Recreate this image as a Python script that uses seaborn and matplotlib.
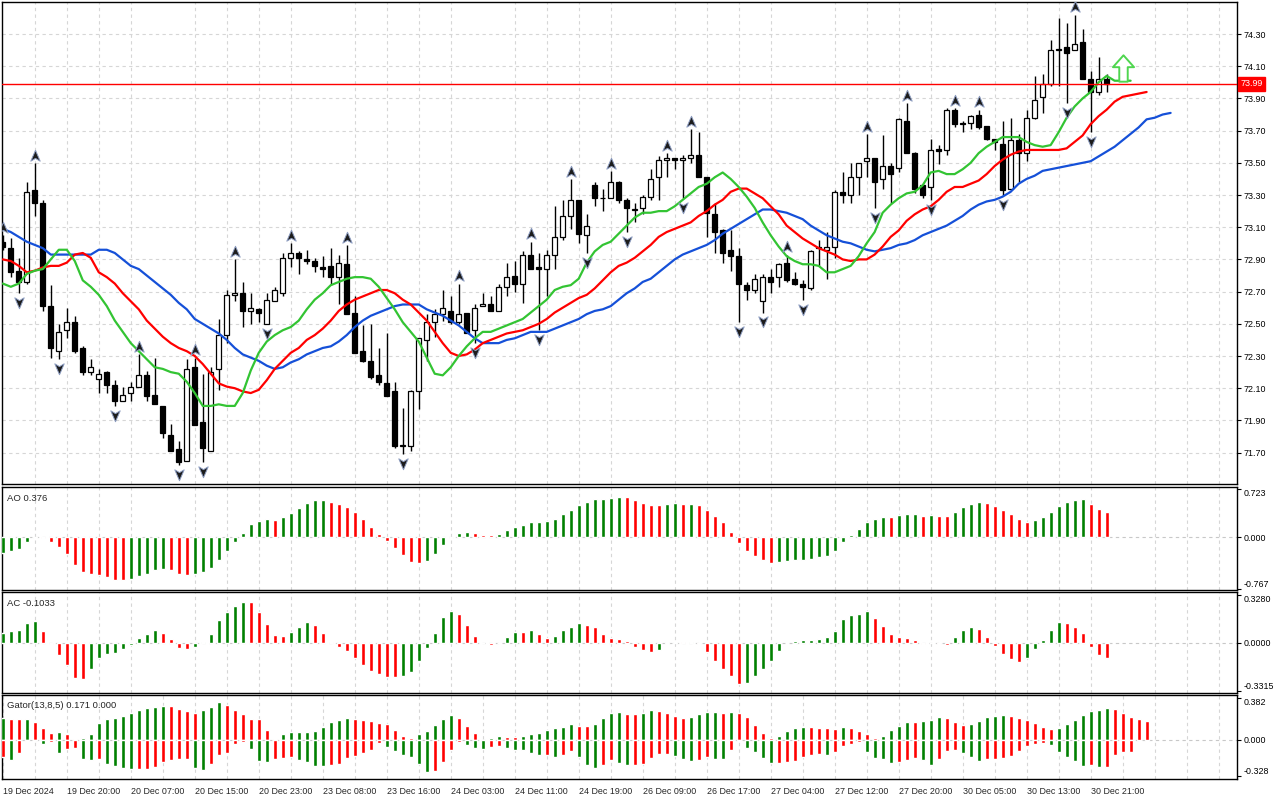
import numpy as np
import pandas as pd
import matplotlib
matplotlib.use("Agg")
import matplotlib.pyplot as plt
from matplotlib.path import Path
import seaborn as sns

# hourly candles, bar 0 = 19 Dec 2024 12:00
opens = [
    73.01, 72.97, 72.83, 72.76, 73.33, 73.25, 72.61, 72.33, 72.46, 72.51,
    72.35, 72.20, 72.16, 72.20, 72.12, 72.02, 72.07, 72.11, 72.18, 72.06,
    71.99, 71.81, 71.72, 71.65, 72.23, 71.89, 71.71, 72.22, 72.43, 72.68,
    72.69, 72.58, 72.59, 72.50, 72.64, 72.69, 72.91, 72.94, 72.90, 72.89,
    72.85, 72.86, 72.79, 72.87, 72.57, 72.33, 72.27, 72.18, 72.13, 72.08,
    71.74, 71.74, 72.08, 72.40, 72.51, 72.56, 72.58, 72.51, 72.57, 72.46,
    72.61, 72.62, 72.58, 72.73, 72.80, 72.75, 72.93, 72.85, 72.84, 72.93,
    73.04, 73.17, 73.27, 73.05, 73.36, 73.28, 73.28, 73.38, 73.27, 73.21,
    73.22, 73.29, 73.41, 73.52, 73.53, 73.52, 73.53, 73.55, 73.41, 73.18,
    73.08, 72.96, 72.92, 72.74, 72.71, 72.64, 72.79, 72.79, 72.88, 72.78,
    72.75, 72.72, 72.97, 72.96, 72.98, 73.32, 73.30, 73.41, 73.51, 73.53,
    73.40, 73.48, 73.47, 73.76, 73.56, 73.36, 73.35, 73.585, 73.58, 73.83,
    73.75, 73.75, 73.80, 73.73, 73.65, 73.62, 73.34, 73.64, 73.56, 73.78,
    73.91, 73.99, 74.21, 74.22, 74.20, 74.25, 74.02, 73.94, 74.02]
highs = [
    73.05, 73.03, 72.91, 73.38, 73.50, 73.27, 72.74, 72.50, 72.60, 72.55,
    72.36, 72.28, 72.22, 72.21, 72.15, 72.11, 72.14, 72.31, 72.21, 72.29,
    71.99, 71.88, 71.77, 72.28, 72.29, 72.19, 72.23, 72.53, 72.71, 72.90,
    72.76, 72.69, 72.60, 72.69, 72.73, 72.94, 73.00, 72.95, 72.96, 72.91,
    72.92, 72.97, 72.93, 72.99, 72.67, 72.49, 72.50, 72.35, 72.44, 72.14,
    71.98, 72.09, 72.41, 72.56, 72.59, 72.71, 72.67, 72.75, 72.57, 72.62,
    72.69, 72.67, 72.75, 72.88, 72.89, 72.95, 73.01, 72.94, 72.96, 73.23,
    73.27, 73.40, 73.27, 73.18, 73.38, 73.34, 73.45, 73.39, 73.28, 73.25,
    73.30, 73.46, 73.54, 73.56, 73.53, 73.55, 73.71, 73.69, 73.41, 73.25,
    73.09, 73.08, 72.97, 72.76, 72.81, 72.81, 72.84, 72.88, 72.93, 72.82,
    72.77, 72.96, 73.02, 73.07, 73.33, 73.44, 73.50, 73.50, 73.68, 73.53,
    73.67, 73.50, 73.78, 73.87, 73.57, 73.36, 73.65, 73.61, 73.84, 73.84,
    73.76, 73.80, 73.83, 73.73, 73.65, 73.76, 73.78, 73.68, 73.83, 74.04,
    74.05, 74.26, 74.40, 74.37, 74.42, 74.33, 74.07, 74.16, 74.05]
lows = [
    72.96, 72.79, 72.69, 72.75, 73.17, 72.58, 72.29, 72.28, 72.41, 72.32,
    72.18, 72.18, 72.07, 72.07, 71.99, 72.02, 72.02, 72.11, 72.02, 72.00,
    71.79, 71.71, 71.62, 71.65, 71.87, 71.64, 71.71, 72.09, 72.38, 72.64,
    72.48, 72.50, 72.51, 72.50, 72.64, 72.67, 72.85, 72.81, 72.87, 72.82,
    72.79, 72.74, 72.62, 72.56, 72.32, 72.26, 72.16, 72.12, 72.05, 71.73,
    71.69, 71.71, 71.97, 72.27, 72.42, 72.52, 72.50, 72.50, 72.44, 72.38,
    72.61, 72.58, 72.58, 72.67, 72.70, 72.63, 72.84, 72.46, 72.67, 72.84,
    73.02, 73.09, 73.00, 72.94, 73.23, 73.20, 73.28, 73.25, 73.07, 73.13,
    73.18, 73.27, 73.27, 73.41, 73.46, 73.28, 73.50, 73.41, 73.04, 72.94,
    72.88, 72.83, 72.51, 72.65, 72.69, 72.57, 72.69, 72.73, 72.76, 72.74,
    72.65, 72.71, 72.86, 72.78, 72.91, 73.25, 73.25, 73.30, 73.41, 73.22,
    73.34, 73.25, 73.44, 73.56, 73.31, 73.28, 73.27, 73.49, 73.55, 73.72,
    73.69, 73.71, 73.71, 73.64, 73.58, 73.30, 73.34, 73.38, 73.51, 73.77,
    73.81, 73.98, 73.98, 73.87, 74.20, 74.02, 73.69, 73.92, 73.94]
closes = [
    72.98, 72.82, 72.76, 73.32, 73.25, 72.61, 72.35, 72.45, 72.51, 72.33,
    72.20, 72.23, 72.19, 72.12, 72.02, 72.06, 72.11, 72.18, 72.05, 72.00,
    71.82, 71.71, 71.64, 72.22, 71.87, 71.73, 72.20, 72.43, 72.68, 72.69,
    72.58, 72.60, 72.57, 72.65, 72.71, 72.91, 72.94, 72.91, 72.89, 72.86,
    72.84, 72.79, 72.88, 72.56, 72.32, 72.27, 72.17, 72.14, 72.05, 71.74,
    71.75, 72.08, 72.41, 72.51, 72.56, 72.60, 72.51, 72.56, 72.44, 72.60,
    72.62, 72.58, 72.73, 72.79, 72.75, 72.93, 72.84, 72.84, 72.93, 73.04,
    73.17, 73.27, 73.06, 73.11, 73.28, 73.28, 73.38, 73.27, 73.22, 73.21,
    73.29, 73.40, 73.52, 73.53, 73.52, 73.53, 73.55, 73.41, 73.19, 73.07,
    72.94, 72.92, 72.75, 72.71, 72.78, 72.79, 72.76, 72.87, 72.77, 72.75,
    72.73, 72.95, 72.98, 72.98, 73.32, 73.30, 73.41, 73.50, 73.53, 73.38,
    73.48, 73.43, 73.77, 73.56, 73.34, 73.30, 73.58, 73.575, 73.83, 73.74,
    73.74, 73.79, 73.72, 73.65, 73.63, 73.33, 73.64, 73.56, 73.78, 73.89,
    73.99, 74.20, 74.20, 74.18, 74.24, 74.02, 73.94, 74.02, 73.99]

# Alligator lines as drawn (already shifted forward)
jaw = [
    73.09, 73.07, 73.04, 73.01, 72.99, 72.97, 72.93, 72.93, 72.93, 72.93,
    72.93, 72.93, 72.96, 72.96, 72.94, 72.90, 72.86, 72.84, 72.80, 72.76,
    72.72, 72.68, 72.63, 72.59, 72.53, 72.50, 72.47, 72.44, 72.40, 72.35,
    72.31, 72.29, 72.27, 72.24, 72.22, 72.23, 72.26, 72.28, 72.31, 72.33,
    72.35, 72.36, 72.39, 72.43, 72.48, 72.52, 72.55, 72.57, 72.59, 72.61,
    72.62, 72.62, 72.62, 72.59, 72.57, 72.55, 72.52, 72.49, 72.45, 72.41,
    72.38, 72.38, 72.38, 72.40, 72.41, 72.43, 72.45, 72.45, 72.45, 72.47,
    72.49, 72.51, 72.53, 72.56, 72.58, 72.59, 72.61, 72.65, 72.69, 72.72,
    72.76, 72.78, 72.82, 72.86, 72.90, 72.93, 72.95, 72.97, 72.99, 73.02,
    73.06, 73.09, 73.12, 73.15, 73.18, 73.21, 73.21, 73.20, 73.19, 73.17,
    73.15, 73.11, 73.08, 73.05, 73.03, 73.01, 73.00, 72.98, 72.96, 72.95,
    72.96, 72.97, 72.99, 73.00, 73.02, 73.05, 73.07, 73.09, 73.11, 73.14,
    73.17, 73.21, 73.24, 73.26, 73.27, 73.29, 73.32, 73.37, 73.40, 73.42,
    73.45, 73.46, 73.47, 73.48, 73.49, 73.50, 73.51, 73.54, 73.57, 73.60,
    73.64, 73.68, 73.72, 73.77, 73.78, 73.80, 73.81]
teeth = [
    72.90, 72.89, 72.86, 72.82, 72.83, 72.85, 72.86, 72.86, 72.88, 72.93,
    72.94, 72.91, 72.82, 72.79, 72.75, 72.69, 72.64, 72.59, 72.52, 72.47,
    72.42, 72.38, 72.35, 72.33, 72.30, 72.25, 72.19, 72.13, 72.11, 72.10,
    72.08, 72.07, 72.09, 72.15, 72.22, 72.27, 72.32, 72.35, 72.40, 72.43,
    72.47, 72.52, 72.58, 72.62, 72.65, 72.67, 72.69, 72.71, 72.71, 72.69,
    72.65, 72.62, 72.57, 72.52, 72.45, 72.38, 72.32, 72.30, 72.31, 72.34,
    72.38, 72.40, 72.42, 72.44, 72.45, 72.46, 72.48, 72.50, 72.53, 72.57,
    72.60, 72.63, 72.66, 72.68, 72.72, 72.77, 72.82, 72.86, 72.88, 72.91,
    72.95, 72.99, 73.04, 73.07, 73.09, 73.11, 73.13, 73.17, 73.20, 73.24,
    73.27, 73.32, 73.34, 73.34, 73.31, 73.28, 73.23, 73.18, 73.11, 73.07,
    73.03, 73.00, 72.97, 72.95, 72.93, 72.90, 72.89, 72.90, 72.90, 72.93,
    72.98, 73.04, 73.08, 73.14, 73.18, 73.21, 73.23, 73.27, 73.32, 73.35,
    73.35, 73.37, 73.39, 73.43, 73.48, 73.52, 73.55, 73.57, 73.58, 73.58,
    73.58, 73.58, 73.58, 73.59, 73.63, 73.67, 73.74, 73.79, 73.83, 73.88,
    73.91, 73.92, 73.93, 73.94]
lips = [
    72.75, 72.73, 72.75, 72.81, 72.83, 72.84, 72.90, 72.96, 72.96, 72.89,
    72.77, 72.73, 72.68, 72.61, 72.52, 72.45, 72.38, 72.33, 72.28, 72.23,
    72.22, 72.20, 72.19, 72.14, 72.07, 71.99, 71.99, 72.00, 71.99, 71.99,
    72.07, 72.21, 72.32, 72.39, 72.43, 72.46, 72.48, 72.52, 72.59, 72.65,
    72.69, 72.74, 72.76, 72.78, 72.79, 72.79, 72.78, 72.73, 72.66, 72.59,
    72.51, 72.45, 72.39, 72.29, 72.19, 72.18, 72.23, 72.30, 72.36, 72.41,
    72.45, 72.45, 72.47, 72.49, 72.51, 72.53, 72.57, 72.61, 72.65, 72.71,
    72.73, 72.74, 72.78, 72.88, 72.95, 72.99, 73.01, 73.06, 73.11, 73.16,
    73.19, 73.19, 73.20, 73.20, 73.23, 73.27, 73.31, 73.35, 73.37, 73.41,
    73.44, 73.40, 73.35, 73.29, 73.22, 73.13, 73.05, 72.98, 72.92, 72.89,
    72.87, 72.87, 72.86, 72.82, 72.82, 72.84, 72.86, 72.92, 73.00, 73.07,
    73.19, 73.24, 73.28, 73.31, 73.32, 73.36, 73.44, 73.45, 73.43, 73.43,
    73.46, 73.50, 73.56, 73.60, 73.63, 73.66, 73.66, 73.66, 73.63, 73.61,
    73.60, 73.61, 73.69, 73.78, 73.85, 73.90, 73.94, 74.00, 74.04, 74.01,
    74.01, 74.01]

fractal_up_bars = [0, 4, 17, 24, 29, 36, 43, 57, 66, 71, 76, 83, 86, 98,
                   108, 113, 119, 122, 134]
fractal_down_bars = [2, 7, 14, 22, 25, 33, 50, 59, 67, 73, 78, 85, 92, 95,
                     100, 109, 116, 125, 133, 136]

last_price = 73.99
signal_bar = 140
signal_price = 74.09

ao_values = [
    -0.230, -0.206, -0.172, -0.074, -0.005, -0.010, -0.074, -0.147, -0.255, -0.417,
    -0.515, -0.549, -0.564, -0.588, -0.637, -0.642, -0.627, -0.573, -0.549, -0.490,
    -0.475, -0.490, -0.554, -0.559, -0.554, -0.524, -0.466, -0.343, -0.206, -0.074,
    0.064, 0.196, 0.245, 0.270, 0.260, 0.304, 0.368, 0.441, 0.515, 0.554,
    0.559, 0.524, 0.490, 0.451, 0.382, 0.270, 0.157, 0.049, -0.059, -0.162,
    -0.270, -0.368, -0.377, -0.353, -0.245, -0.118, -0.010, 0.059, 0.074, 0.059,
    0.029, 0.028, 0.044, 0.108, 0.147, 0.176, 0.221, 0.235, 0.240, 0.279,
    0.353, 0.412, 0.485, 0.529, 0.573, 0.574, 0.588, 0.603, 0.600, 0.559,
    0.515, 0.485, 0.484, 0.500, 0.515, 0.500, 0.501, 0.485, 0.412, 0.323,
    0.221, 0.074, -0.083, -0.206, -0.279, -0.338, -0.377, -0.368, -0.353, -0.338,
    -0.336, -0.318, -0.294, -0.279, -0.206, -0.074, 0.029, 0.118, 0.235, 0.279,
    0.309, 0.308, 0.338, 0.353, 0.354, 0.323, 0.338, 0.323, 0.322, 0.382,
    0.456, 0.500, 0.529, 0.515, 0.470, 0.412, 0.353, 0.279, 0.235, 0.265,
    0.309, 0.382, 0.470, 0.529, 0.559, 0.573, 0.500, 0.426, 0.376]
ac_values = [
    0.069, 0.083, 0.090, 0.138, 0.152, 0.083, -0.012, -0.087, -0.156, -0.246,
    -0.253, -0.179, -0.104, -0.076, -0.069, -0.046, -0.018, 0.035, 0.062, 0.090,
    0.069, 0.028, -0.039, -0.046, -0.032, 0.005, 0.062, 0.159, 0.214, 0.255,
    0.283, 0.282, 0.214, 0.131, 0.055, 0.048, 0.076, 0.110, 0.145, 0.124,
    0.069, 0.007, -0.032, -0.060, -0.108, -0.156, -0.198, -0.219, -0.235, -0.236,
    -0.228, -0.200, -0.124, -0.039, 0.069, 0.179, 0.221, 0.200, 0.124, 0.048,
    -0.005, -0.018, -0.004, 0.041, 0.076, 0.075, 0.090, 0.062, 0.035, 0.048,
    0.090, 0.110, 0.138, 0.124, 0.110, 0.062, 0.035, 0.028, 0.014, -0.032,
    -0.053, -0.067, -0.053, -0.012, 0.007, 0.005, 0.006, -0.009, -0.067, -0.129,
    -0.179, -0.232, -0.288, -0.281, -0.232, -0.179, -0.129, -0.060, -0.004, 0.014,
    0.021, 0.022, 0.028, 0.041, 0.083, 0.166, 0.193, 0.200, 0.221, 0.173,
    0.117, 0.062, 0.041, 0.035, 0.021, -0.012, -0.005, -0.012, -0.018, 0.041,
    0.090, 0.110, 0.097, 0.041, -0.025, -0.081, -0.115, -0.136, -0.108, -0.046,
    0.021, 0.090, 0.145, 0.138, 0.110, 0.069, -0.032, -0.087, -0.1033]
gator_upper = [
    0.200, 0.190, 0.189, 0.192, 0.163, 0.107, 0.061, 0.071, 0.052, 0.006,
    0.015, 0.052, 0.154, 0.190, 0.200, 0.218, 0.246, 0.273, 0.292, 0.301,
    0.310, 0.309, 0.282, 0.264, 0.246, 0.273, 0.301, 0.347, 0.319, 0.273,
    0.236, 0.190, 0.189, 0.089, 0.006, 0.052, 0.071, 0.072, 0.073, 0.080,
    0.117, 0.163, 0.181, 0.200, 0.190, 0.181, 0.172, 0.154, 0.144, 0.089,
    0.034, 0.015, 0.052, 0.080, 0.135, 0.190, 0.227, 0.200, 0.126, 0.061,
    0.003, 0.015, 0.034, 0.025, 0.024, 0.034, 0.052, 0.061, 0.089, 0.107,
    0.117, 0.144, 0.126, 0.125, 0.145, 0.200, 0.246, 0.255, 0.236, 0.235,
    0.246, 0.273, 0.264, 0.246, 0.218, 0.200, 0.209, 0.236, 0.255, 0.256,
    0.246, 0.255, 0.246, 0.209, 0.135, 0.061, 0.015, 0.034, 0.080, 0.107,
    0.117, 0.116, 0.107, 0.106, 0.105, 0.117, 0.107, 0.080, 0.052, 0.015,
    0.034, 0.089, 0.126, 0.163, 0.162, 0.172, 0.181, 0.209, 0.200, 0.163,
    0.135, 0.145, 0.172, 0.209, 0.218, 0.227, 0.218, 0.200, 0.181, 0.154,
    0.117, 0.098, 0.107, 0.144, 0.181, 0.227, 0.264, 0.273, 0.292, 0.282,
    0.246, 0.209, 0.190, 0.171]
gator_lower = [
    -0.154, -0.184, -0.123, -0.009, -0.004, -0.037, -0.018, -0.120, -0.083, -0.074,
    -0.175, -0.181, -0.175, -0.221, -0.239, -0.258, -0.267, -0.266, -0.265, -0.249,
    -0.203, -0.184, -0.175, -0.172, -0.258, -0.276, -0.221, -0.138, -0.120, -0.037,
    -0.020, -0.083, -0.190, -0.199, -0.175, -0.166, -0.154, -0.184, -0.206, -0.239,
    -0.240, -0.230, -0.221, -0.170, -0.150, -0.120, -0.090, -0.028, -0.068, -0.101,
    -0.138, -0.157, -0.221, -0.295, -0.286, -0.203, -0.092, -0.018, -0.046, -0.074,
    -0.083, -0.064, -0.055, -0.074, -0.092, -0.093, -0.120, -0.138, -0.137, -0.157,
    -0.138, -0.101, -0.157, -0.230, -0.258, -0.230, -0.184, -0.212, -0.230, -0.229,
    -0.221, -0.166, -0.129, -0.128, -0.147, -0.175, -0.193, -0.184, -0.157, -0.175,
    -0.176, -0.092, -0.009, -0.074, -0.110, -0.166, -0.212, -0.211, -0.203, -0.193,
    -0.157, -0.138, -0.129, -0.138, -0.110, -0.055, -0.037, -0.018, -0.110, -0.166,
    -0.175, -0.212, -0.203, -0.184, -0.166, -0.184, -0.230, -0.175, -0.101, -0.092,
    -0.120, -0.157, -0.193, -0.175, -0.174, -0.166, -0.147, -0.101, -0.055, -0.037,
    -0.028, -0.046, -0.110, -0.157, -0.193, -0.239, -0.230, -0.249, -0.245, -0.138,
    -0.110, -0.108]

time_labels = ["19 Dec 2024", "19 Dec 20:00", "20 Dec 07:00", "20 Dec 15:00",
               "20 Dec 23:00", "23 Dec 08:00", "23 Dec 16:00", "24 Dec 03:00",
               "24 Dec 11:00", "24 Dec 19:00", "26 Dec 09:00", "26 Dec 17:00",
               "27 Dec 04:00", "27 Dec 12:00", "27 Dec 20:00", "30 Dec 05:00",
               "30 Dec 13:00", "30 Dec 21:00"]
price_ticks = [74.30, 74.10, 73.90, 73.70, 73.50, 73.30, 73.10, 72.90,
               72.70, 72.50, 72.30, 72.10, 71.90, 71.70]
ao_ticks = [0.723, 0.0, -0.767]
ac_ticks = [0.328, 0.0, -0.3315]
gator_ticks = [0.382, 0.0, -0.328]

GREEN = "#008000"
RED = "#ff0000"
GRID = "#d6d6d6"
FS = 6.4

sns.set_style("white")
plt.rcParams["font.family"] = ["Liberation Sans", "DejaVu Sans"]

candles = pd.DataFrame({"open": opens, "high": highs, "low": lows, "close": closes})
candles["bar"] = np.arange(len(candles))
n_bars = len(candles)


def rise_colors(values, first, use_abs=False):
    vals = np.abs(values) if use_abs else np.asarray(values)
    cols = [first]
    for prev, cur in zip(vals[:-1], vals[1:]):
        if cur > prev:
            cols.append(GREEN)
        elif cur < prev:
            cols.append(RED)
        else:
            cols.append(cols[-1])
    return cols


W, H = 1280, 800
fig = plt.figure(figsize=(W / 100, H / 100), dpi=100)


def panel(top, bottom):
    ax = fig.add_axes([2 / W, 1 - bottom / H, (1237 - 2) / W, (bottom - top) / H])
    ax.set_xlim(-0.1, 154.3)
    for s in ax.spines.values():
        s.set_color("black")
        s.set_linewidth(1.0)
    ax.yaxis.tick_right()
    ax.tick_params(axis="y", length=3, width=0.8, labelsize=FS, pad=2, colors="black")
    ax.set_xticks(np.arange(4, 155, 4), minor=True)
    ax.grid(which="minor", axis="x", color=GRID, ls=(0, (3, 3)), lw=0.8)
    ax.tick_params(axis="x", which="minor", length=0)
    ax.set_axisbelow(True)
    return ax


def edge_ticks(ax, ticks, fmt):
    ax.set_yticks(ticks)
    ax.set_yticklabels([fmt.format(v) for v in ticks])
    labels = ax.get_yticklabels()
    labels[0].set_va("top")
    labels[-1].set_va("bottom")


ax_main = panel(2, 484)
ax_ao = panel(487, 590)
ax_ac = panel(592, 693)
ax_gt = panel(695, 779)

# ---- main price panel
ax_main.set_ylim(71.505, 74.499)
ax_main.set_yticks(price_ticks)
ax_main.set_yticklabels([f"{p:.2f}" for p in price_ticks])
ax_main.grid(which="major", axis="y", color=GRID, ls=(0, (3, 3)), lw=0.8)
ax_main.tick_params(axis="x", which="both", bottom=False, labelbottom=False)

bull = candles[candles.close >= candles.open]
bear = candles[candles.close < candles.open]
ax_main.vlines(candles.bar, candles.low, candles.high, color="black", lw=1.0, zorder=2)
ax_main.bar(bull.bar, np.maximum(bull.close - bull.open, 0.004), bottom=bull.open,
            width=0.62, color="white", edgecolor="black", lw=0.9, zorder=3)
ax_main.bar(bear.bar, np.maximum(bear.open - bear.close, 0.004), bottom=bear.close,
            width=0.62, color="black", edgecolor="black", lw=0.9, zorder=3)

for vals, col in ((jaw, "#1550d8"), (teeth, "#ff0000"), (lips, "#33c433")):
    sns.lineplot(x=np.arange(len(vals)), y=vals, ax=ax_main, color=col, lw=1.6, zorder=4)

up_mark = Path([(0, 1), (0.75, -0.75), (0, -0.3), (-0.75, -0.75), (0, 1)],
               [Path.MOVETO, Path.LINETO, Path.LINETO, Path.LINETO, Path.CLOSEPOLY])
down_mark = Path([(0, -1), (0.75, 0.75), (0, 0.3), (-0.75, 0.75), (0, -1)],
                 [Path.MOVETO, Path.LINETO, Path.LINETO, Path.LINETO, Path.CLOSEPOLY])
fu = candles.loc[fractal_up_bars]
fd = candles.loc[fractal_down_bars]
ax_main.plot(fu.bar, fu.high + 0.045, ls="none", marker=up_mark, ms=9,
             mfc="#1c1c1c", mec="#8c9cc0", mew=0.7, zorder=5)
ax_main.plot(fd.bar, fd.low - 0.055, ls="none", marker=down_mark, ms=9,
             mfc="#1c1c1c", mec="#8c9cc0", mew=0.7, zorder=5)

arrow_mark = Path([(0, 1), (0.8, 0.1), (0.32, 0.1), (0.32, -1), (-0.32, -1),
                   (-0.32, 0.1), (-0.8, 0.1), (0, 1)],
                  [Path.MOVETO] + [Path.LINETO] * 6 + [Path.CLOSEPOLY])
ax_main.plot([signal_bar], [signal_price], ls="none", marker=arrow_mark, ms=19,
             mfc="white", mec="#4fd64f", mew=1.4, zorder=6)

ax_main.axhline(last_price, color="#ff0000", lw=1.0, zorder=4)
ax_main.text(1.003, last_price, f"{last_price:.2f}", transform=ax_main.get_yaxis_transform(),
             ha="left", va="center", fontsize=FS, color="white", clip_on=False, zorder=10,
             bbox=dict(boxstyle="square,pad=0.25", fc="#ff0000", ec="#ff0000"))

# ---- AO
ax_ao.bar(np.arange(len(ao_values)), ao_values, width=0.5,
          color=rise_colors(ao_values, GREEN), zorder=3)
ax_ao.set_ylim(-0.787, 0.75)
edge_ticks(ax_ao, ao_ticks, "{:.3f}")
ax_ao.text(0.004, 0.93, f"AO {ao_values[-1]:.3f}", transform=ax_ao.transAxes,
           fontsize=FS + 0.4, va="top", ha="left")

# ---- AC
ax_ac.bar(np.arange(len(ac_values)), ac_values, width=0.5,
          color=rise_colors(ac_values, GREEN), zorder=3)
ax_ac.set_ylim(-0.347, 0.350)
edge_ticks(ax_ac, ac_ticks, "{:.4f}")
ax_ac.text(0.004, 0.93, f"AC {ac_values[-1]:.4f}", transform=ax_ac.transAxes,
           fontsize=FS + 0.4, va="top", ha="left")

# ---- Gator
ax_gt.bar(np.arange(len(gator_upper)), gator_upper, width=0.5,
          color=rise_colors(gator_upper, GREEN), zorder=3)
ax_gt.bar(np.arange(len(gator_lower)), gator_lower, width=0.5,
          color=rise_colors(gator_lower, RED, use_abs=True), zorder=3)
ax_gt.set_ylim(-0.359, 0.414)
edge_ticks(ax_gt, gator_ticks, "{:.3f}")
ax_gt.text(0.004, 0.93, f"Gator(13,8,5) {gator_upper[-1]:.3f} 0.000",
           transform=ax_gt.transAxes, fontsize=FS + 0.4, va="top", ha="left")

for ax in (ax_ao, ax_ac, ax_gt):
    ax.axhline(0, color="#c8c8c8", ls=(0, (3, 3)), lw=0.8, zorder=1)
for ax in (ax_ao, ax_ac):
    ax.tick_params(axis="x", which="both", bottom=False, labelbottom=False)

ax_gt.set_xticks(np.arange(0, n_bars, 8))
ax_gt.set_xticklabels(time_labels, ha="left", fontsize=FS)
ax_gt.tick_params(axis="x", which="major", length=4, width=0.8, pad=2, direction="out")
ax_gt.grid(which="major", axis="x", color=GRID, ls=(0, (3, 3)), lw=0.8)

fig.savefig("out.png", dpi=100, facecolor="white")
